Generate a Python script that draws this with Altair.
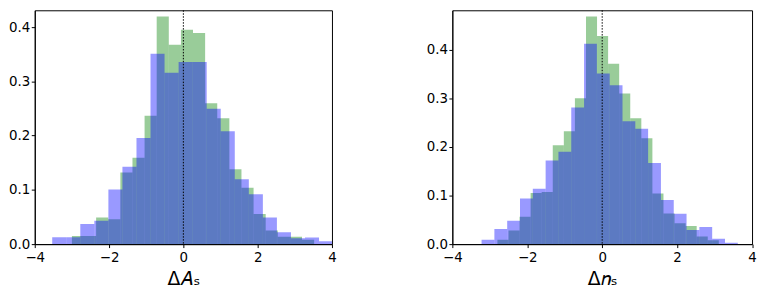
import altair as alt
import pandas as pd

# ---------------- data (histogram densities) ----------------
# Left panel: Delta A_s   (20 bins per series)
A_green_start, A_green_width = -3.0, 0.326
A_green = [0.015, 0.015, 0.049, 0.046, 0.132, 0.159, 0.2365, 0.4194, 0.3675, 0.395,
           0.389, 0.2596, 0.2322, 0.138, 0.104, 0.0555, 0.025, 0.0135, 0.0135, 0.008]
A_blue_start, A_blue_width = -3.53, 0.378
A_blue = [0.0128, 0.0128, 0.037, 0.043, 0.1005, 0.1426, 0.1957, 0.351, 0.3157, 0.3358,
          0.3358, 0.2493, 0.208, 0.1195, 0.092, 0.049, 0.022, 0.011, 0.012, 0.0055]

# Right panel: Delta n_s
n_green_start, n_green_width = -2.797, 0.2955
n_green = [0.009, 0.028, 0.0565, 0.105, 0.107, 0.2035, 0.232, 0.300, 0.468, 0.428,
           0.371, 0.310, 0.259, 0.218, 0.104, 0.063, 0.043, 0.0375, 0.0157, 0.008]
n_blue_start, n_blue_width = -3.22, 0.342
n_blue = [0.009, 0.031, 0.048, 0.094, 0.114, 0.172, 0.19, 0.281, 0.412, 0.351,
          0.327, 0.253, 0.2375, 0.167, 0.091, 0.0626, 0.029, 0.035, 0.011, 0.003]

x_ticks = [-4, -2, 0, 2, 4]
y_ticks = [0.0, 0.1, 0.2, 0.3, 0.4]
titles = ["Δ𝐴ₛ", "Δ𝑛ₛ"]
y_max = [0.431, 0.481]

GREEN = "#008000"
BLUE = "#0000ff"


def steps(start, width, heights):
    edges = [start + width * k for k in range(len(heights) + 1)]
    ys = list(heights) + [heights[-1]]
    return pd.DataFrame({"x": edges, "y": ys, "o": list(range(len(edges)))})


def panel(green, blue, title, ymax, width):
    xs = alt.Scale(domain=[-4, 4], nice=False, zero=False)
    ys = alt.Scale(domain=[0, ymax], nice=False)
    xaxis = alt.Axis(values=x_ticks, title=title, grid=False, tickSize=3.5,
                     labelPadding=3, titlePadding=6, titleFontSize=19,
                     titleFontWeight="normal", labelFlush=False)
    yaxis = alt.Axis(values=y_ticks, format=".1f", title=None, grid=False,
                     tickSize=3.5, labelPadding=1.5)

    def area(df, color):
        return alt.Chart(df).mark_area(
            interpolate="step-after", opacity=0.4, color=color, clip=True
        ).encode(
            x=alt.X("x:Q", scale=xs, axis=xaxis),
            y=alt.Y("y:Q", scale=ys, axis=yaxis),
            order="o:Q",
        )

    rule = alt.Chart(pd.DataFrame({"x": [0]})).mark_rule(
        color="black", strokeWidth=1, strokeDash=[1.5, 1.5]
    ).encode(x=alt.X("x:Q", scale=xs))

    return alt.layer(area(green, GREEN), area(blue, BLUE), rule).properties(
        width=width, height=236
    )


left = panel(steps(A_green_start, A_green_width, A_green),
             steps(A_blue_start, A_blue_width, A_blue), titles[0], y_max[0], 300)
right = panel(steps(n_green_start, n_green_width, n_green),
              steps(n_blue_start, n_blue_width, n_blue), titles[1], y_max[1], 302.5)

chart = alt.hconcat(left, right, spacing=121.5, bounds="flush").properties(
    padding=0
).configure_view(
    stroke="black", strokeWidth=1
).configure_axis(
    labelFont="DejaVu Sans", titleFont="DejaVu Sans", labelFontSize=13.5,
    labelColor="black", titleColor="black", domainColor="black", tickColor="black",
    domainWidth=1, tickWidth=1
)

chart.save("out.html", embed_options={"renderer": "svg", "actions": False})
